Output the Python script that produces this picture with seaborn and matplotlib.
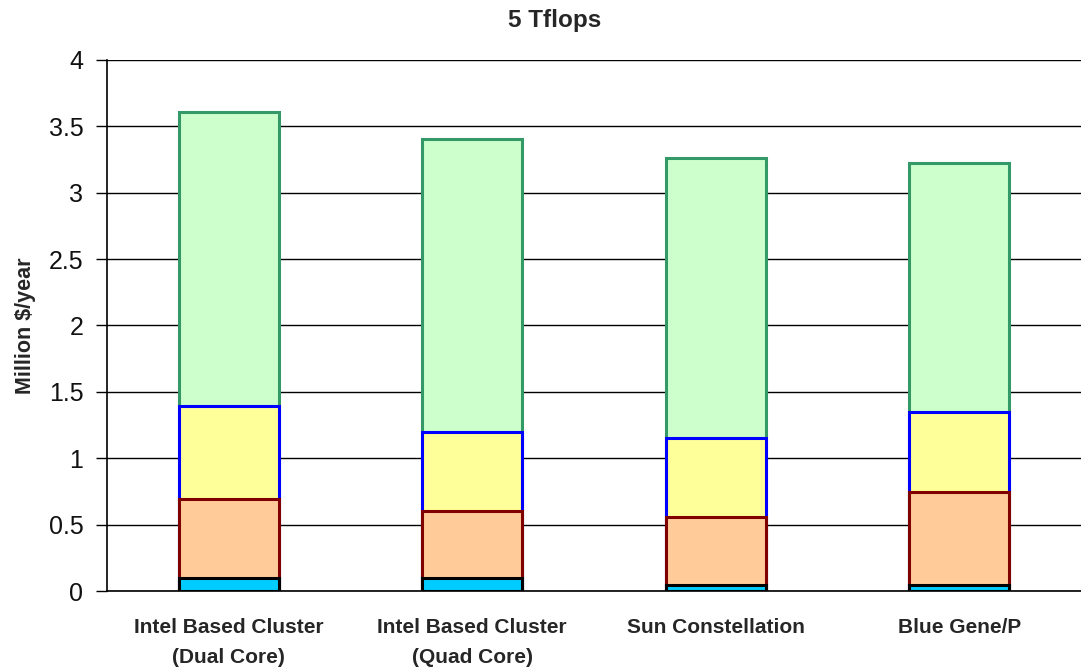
import matplotlib
matplotlib.use("Agg")
import matplotlib.pyplot as plt
import seaborn as sns
import numpy as np
import pandas as pd

systems = ["Intel Based Cluster\n(Dual Core)", "Intel Based Cluster\n(Quad Core)",
           "Sun Constellation", "Blue Gene/P"]

# Cost components per system (million $/year), bottom to top
cyan_part = [0.10, 0.10, 0.05, 0.05]
orange_part = [0.59, 0.50, 0.51, 0.70]
yellow_part = [0.70, 0.60, 0.59, 0.60]
green_part = [2.22, 2.20, 2.11, 1.87]

layers = [cyan_part, orange_part, yellow_part, green_part]
fills = ["#00ccff", "#ffcc99", "#ffff99", "#ccffcc"]
edges = ["#000000", "#800000", "#0000ff", "#339966"]

yticks = [0, 0.5, 1, 1.5, 2, 2.5, 3, 3.5, 4]

sns.set_style("white")
plt.rcParams["font.family"] = ["Liberation Sans", "DejaVu Sans"]

fig = plt.figure(figsize=(10.81, 6.71), dpi=100)
ax = fig.add_axes([0.099, 0.119, 0.901, 0.792])

cumulative = np.cumsum(np.array(layers), axis=0)

# Draw cumulative totals from the top layer down so each lower segment overlays the one above
for i in range(len(layers) - 1, -1, -1):
    df = pd.DataFrame({"system": systems, "value": cumulative[i]})
    sns.barplot(data=df, x="system", y="value", ax=ax, color=fills[i],
                width=0.41, edgecolor=edges[i], linewidth=2.2, saturation=1,
                zorder=3)

ax.set_ylim(0, 4)
ax.set_xlim(-0.5, 3.5)
ax.set_yticks(yticks)
ax.set_yticklabels([f"{t:g}" for t in yticks], fontsize=18, color="#111111")
ax.yaxis.grid(True, color="black", linewidth=1.0, zorder=0)
ax.set_axisbelow(True)

ax.set_xticks(range(len(systems)))
ax.set_xticklabels(systems, fontsize=15, fontweight="bold", linespacing=1.75)
ax.set_xticks([-0.5, 0.5, 1.5, 2.5, 3.5], minor=True)
ax.tick_params(axis="x", which="major", length=0, pad=19)
ax.tick_params(axis="x", which="minor", length=7, width=1, color="black", direction="out")
ax.tick_params(axis="y", length=8, width=1, color="black", direction="out", left=True, pad=9)

ax.set_xlabel("")
ax.set_ylabel("Million $/year", fontsize=15.5, fontweight="bold", labelpad=9)
fig.text(555 / 1081, 1 - 20 / 671, "5 Tflops", fontsize=17.5, fontweight="bold",
         ha="center", va="center")

for s in ["top", "right"]:
    ax.spines[s].set_visible(False)
for s in ["left", "bottom"]:
    ax.spines[s].set_color("black")
    ax.spines[s].set_linewidth(1.2)

fig.savefig("out.png", dpi=100)
